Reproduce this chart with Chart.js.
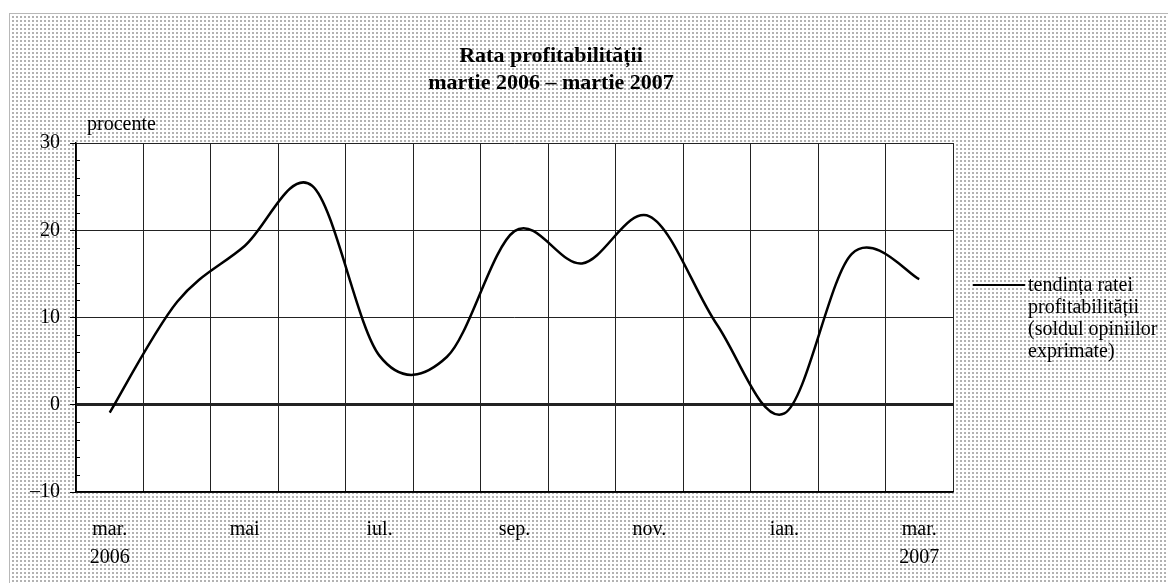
<!DOCTYPE html>
<html>
<head>
<meta charset="utf-8">
<script src="https://cdn.jsdelivr.net/npm/chart.js@4"></script>
<style>
  body { margin: 0; background: #fff; }
  #wrap { position: relative; width: 1168px; height: 583px; font-family: "Liberation Serif", "Times New Roman", serif; color: #000; }
  #chart { position: absolute; left: 0; top: 0; }
  .title { position: absolute; left: 351px; width: 400px; top: 41px; text-align: center; font-weight: bold; font-size: 22px; line-height: 27px; }
  .unit { position: absolute; left: 87px; top: 112px; font-size: 20px; }
  .legend { position: absolute; left: 973px; top: 273px; font-size: 20px; line-height: 22px; }
  .legend .swatch { position: absolute; left: 0; top: 11px; width: 52px; border-top: 2.5px solid #000; }
  .legend .text { position: absolute; left: 55px; top: 0; white-space: nowrap; }
</style>
</head>
<body>
<div id="wrap">
  <canvas id="chart" width="1168" height="583"></canvas>
  <div class="title">Rata profitabilității<br>martie 2006 – martie 2007</div>
  <div class="unit">procente</div>
  <div class="legend">
    <div class="swatch"></div>
    <div class="text">tendința ratei<br>profitabilității<br>(soldul opiniilor<br>exprimate)</div>
  </div>
</div>
<script>
const months = ["mar.", "apr.", "mai", "iun.", "iul.", "aug.", "sep.", "oct.", "nov.", "dec.", "ian.", "feb.", "mar."];
const tickLabels = [["mar.", "2006"], "", "mai", "", "iul.", "", "sep.", "", "nov.", "", "ian.", "", ["mar.", "2007"]];
const profitRate = [-0.9, 11.8, 18.2, 25.1, 5.6, 5.5, 19.9, 16.2, 21.6, 9.2, -1.0, 17.3, 14.4];
const yMin = -10;
const yMax = 30;
const yStep = 10;
const yMinorStep = 2;

const fontFamily = "'Liberation Serif', 'Times New Roman', serif";

// dotted background like the original fill
const patCanvas = document.createElement("canvas");
patCanvas.width = 4;
patCanvas.height = 4;
const pctx = patCanvas.getContext("2d");
pctx.fillStyle = "#b2b2b2";
pctx.fillRect(0, 0, 2, 2);

const background = {
  id: "background",
  beforeDraw(chart) {
    const { ctx, width, height, chartArea: a } = chart;
    ctx.save();
    ctx.fillStyle = "#fff";
    ctx.fillRect(0, 0, width, height);
    ctx.fillStyle = ctx.createPattern(patCanvas, "repeat");
    ctx.fillRect(10, 14, width - 10, height - 14);
    ctx.strokeStyle = "#b8b8b8";
    ctx.lineWidth = 1;
    ctx.strokeRect(9.5, 13.5, width, height);
    ctx.fillStyle = "#fff";
    ctx.fillRect(a.left, a.top, a.right - a.left, a.bottom - a.top);
    ctx.restore();
  },
};

// minor tick marks on the inside of the value axis
const minorTicks = {
  id: "minorTicks",
  afterDraw(chart) {
    const { ctx, chartArea: a } = chart;
    const y = chart.scales.y;
    ctx.save();
    ctx.strokeStyle = "#000";
    ctx.lineWidth = 1;
    for (let v = yMin + yMinorStep; v < yMax; v += yMinorStep) {
      if (v % yStep === 0) continue;
      const py = Math.round(y.getPixelForValue(v)) + 0.5;
      ctx.beginPath();
      ctx.moveTo(a.left, py);
      ctx.lineTo(a.left + 4, py);
      ctx.stroke();
    }
    ctx.restore();
  },
};

// Excel-like smoothing (Catmull-Rom) from the points the scales placed
const smoothLine = {
  id: "smoothLine",
  beforeDatasetsDraw(chart) {
    const meta = chart.getDatasetMeta(0);
    meta.dataset.updateControlPoints(chart.chartArea);
    const pts = meta.data;
    for (let i = 0; i < pts.length; i++) {
      const p0 = pts[Math.max(i - 1, 0)];
      const p1 = pts[i];
      const p2 = pts[Math.min(i + 1, pts.length - 1)];
      const dx = (p2.x - p0.x) / 6;
      const dy = (p2.y - p0.y) / 6;
      p1.cp1x = p1.x - dx;
      p1.cp1y = p1.y - dy;
      p1.cp2x = p1.x + dx;
      p1.cp2y = p1.y + dy;
    }
  },
};

new Chart(document.getElementById("chart"), {
  type: "line",
  data: {
    labels: months,
    datasets: [
      {
        label: "tendința ratei profitabilității (soldul opiniilor exprimate)",
        data: profitRate,
        borderColor: "#000",
        borderWidth: 2.5,
        pointRadius: 0,
        tension: 0.4,
        fill: false,
      },
    ],
  },
  options: {
    responsive: false,
    animation: false,
    layout: {
      padding: { left: 10, top: 143, right: 215, bottom: 6 },
    },
    plugins: {
      legend: { display: false },
      title: { display: false },
      tooltip: { enabled: false },
    },
    scales: {
      x: {
        offset: true,
        grid: { offset: true, color: "#222", lineWidth: 1, drawTicks: false },
        border: { color: "#000", width: 1.5 },
        ticks: {
          autoSkip: false,
          maxRotation: 0,
          padding: 24,
          color: "#000",
          font: { family: fontFamily, size: 20, lineHeight: 1.4 },
          callback: (v, i) => tickLabels[i],
        },
        afterFit: (s) => { s.height = 85; },
      },
      y: {
        min: yMin,
        max: yMax,
        grid: {
          color: "#222",
          lineWidth: (c) => (c.tick && c.tick.value === 0 ? 3 : 1),
          tickLength: 6,
          tickColor: "#000",
          tickWidth: 1,
        },
        border: { color: "#000", width: 1.5 },
        ticks: {
          stepSize: yStep,
          padding: 10,
          color: "#000",
          font: { family: fontFamily, size: 20 },
          callback: (v) => (v < 0 ? "–" + Math.abs(v) : String(v)),
        },
        afterFit: (s) => { s.width = 66; },
      },
    },
  },
  plugins: [background, minorTicks, smoothLine],
});
</script>
</body>
</html>
